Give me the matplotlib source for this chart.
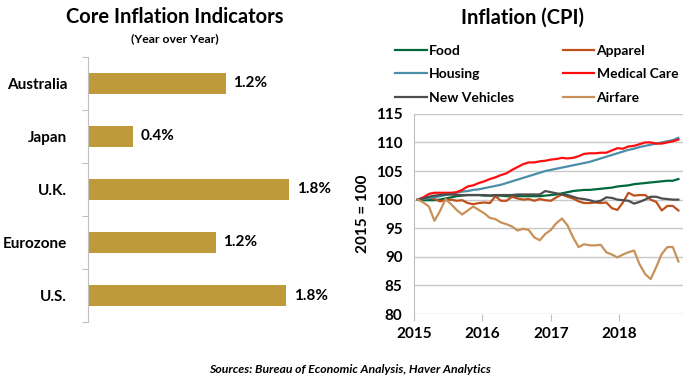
import numpy as np
import matplotlib
matplotlib.use("Agg")
import matplotlib.pyplot as plt

plt.rcParams['font.family'] = ['Lato', 'DejaVu Sans']
plt.rcParams['font.weight'] = 'bold'

# left panel: core inflation, year over year
countries = ['Australia', 'Japan', 'U.K.', 'Eurozone', 'U.S.']
core_vals = [1.23, 0.40, 1.80, 1.14, 1.77]
core_labels = ['1.2%', '0.4%', '1.8%', '1.2%', '1.8%']

# right panel: CPI components, 2015 = 100, monthly Jan 2015 - Dec 2018
food = [100.0, 99.9, 99.9, 99.9, 100.0, 100.2, 100.4, 100.6, 100.7, 100.8, 100.8, 100.8,
        100.7, 100.7, 100.7, 100.7, 100.6, 100.6, 100.6, 100.6, 100.6, 100.6, 100.6, 100.7,
        100.8, 100.9, 101.1, 101.3, 101.5, 101.6, 101.7, 101.7, 101.8, 101.9, 102.0, 102.1,
        102.3, 102.4, 102.5, 102.7, 102.8, 102.9, 103.0, 103.1, 103.2, 103.3, 103.3, 103.6]
apparel = [100.0, 100.2, 100.4, 100.1, 99.7, 99.9, 100.0, 99.8, 99.9, 99.4, 99.2, 99.4,
           99.5, 99.4, 100.6, 99.8, 99.8, 100.5, 100.2, 100.0, 100.1, 99.8, 100.1, 99.9,
           99.8, 100.4, 100.9, 100.5, 100.2, 99.7, 99.4, 99.4, 99.5, 99.4, 99.5, 98.5,
           98.2, 99.5, 101.2, 100.7, 100.8, 100.8, 100.0, 99.6, 98.1, 98.9, 98.9, 98.1]
housing = [100.0, 100.1, 100.3, 100.4, 100.6, 100.8, 101.0, 101.2, 101.4, 101.5, 101.7, 101.8,
           102.0, 102.2, 102.4, 102.6, 102.9, 103.2, 103.5, 103.8, 104.1, 104.4, 104.7, 105.0,
           105.2, 105.4, 105.6, 105.8, 106.0, 106.2, 106.4, 106.6, 106.9, 107.2, 107.5, 107.8,
           108.1, 108.4, 108.7, 108.9, 109.2, 109.4, 109.6, 109.8, 110.0, 110.2, 110.4, 110.8]
medical = [100.0, 100.4, 101.0, 101.2, 101.2, 101.2, 101.2, 101.3, 101.7, 102.3, 102.5, 102.9,
           103.2, 103.6, 103.9, 104.3, 104.6, 105.2, 105.7, 106.2, 106.5, 106.5, 106.7, 106.8,
           107.0, 107.1, 107.3, 107.2, 107.3, 107.6, 108.0, 108.1, 108.1, 108.2, 108.2, 108.6,
           109.0, 108.9, 109.3, 109.4, 109.7, 110.0, 110.0, 109.8, 109.8, 110.0, 110.2, 110.5]
vehicles = [100.0, 100.2, 100.5, 100.7, 100.8, 100.9, 100.9, 100.8, 100.8, 100.8, 100.8, 100.8,
            100.8, 100.7, 100.8, 100.8, 100.8, 100.8, 100.9, 100.9, 100.9, 100.9, 100.9, 101.5,
            101.3, 101.1, 100.9, 100.8, 100.5, 100.2, 100.1, 99.9, 99.6, 99.8, 100.4, 100.3,
            100.0, 99.9, 99.8, 99.3, 99.6, 100.0, 100.5, 100.5, 100.2, 100.1, 100.0, 100.0]
airfare = [100.0, 99.5, 98.8, 96.3, 98.0, 100.1, 99.2, 98.2, 97.4, 98.1, 98.8, 98.2,
           97.6, 96.8, 96.6, 96.0, 95.7, 95.3, 94.6, 94.9, 94.7, 93.4, 92.9, 94.0,
           94.7, 95.9, 96.7, 95.5, 93.4, 91.7, 92.2, 92.0, 92.0, 92.1, 90.8, 90.4,
           89.9, 90.4, 90.8, 91.1, 88.7, 87.0, 86.1, 88.2, 90.5, 91.7, 91.7, 89.2]

series = [('Food', food, '#00693C'), ('Apparel', apparel, '#C0501C'),
          ('Housing', housing, '#4A8EA8'), ('Medical Care', medical, '#FF0D0D'),
          ('New Vehicles', vehicles, '#4D4D4D'), ('Airfare', airfare, '#C8915A')]

fig = plt.figure(figsize=(7, 3.82), dpi=100)

# ---- bars
ax1 = fig.add_axes([0.1257, 0.157, 0.371, 0.694])
y = np.arange(len(countries))
ax1.barh(y, core_vals, height=0.4, color='#BF9A3A')
for yi, v, lab in zip(y, core_vals, core_labels):
    ax1.text(v + 0.07, yi, lab, va='center', ha='left', fontsize=11, fontweight='bold')
ax1.set_ylim(len(countries) - 0.5, -0.5)
ax1.set_xlim(0, 2.32)
ax1.set_yticks(np.arange(-0.5, len(countries), 1), minor=False)
ax1.set_yticklabels([])
ax1.set_yticks(y, minor=True)
ax1.set_yticklabels(countries, minor=True, fontsize=11, fontweight='bold')
ax1.tick_params(axis='y', which='minor', length=0, pad=15)
ax1.tick_params(axis='y', which='major', length=4, color='#BFBFBF', direction='out')
ax1.set_xticks([])
for s in ['top', 'right', 'bottom']:
    ax1.spines[s].set_visible(False)
ax1.spines['left'].set_color('#BFBFBF')
fig.text(0.25, 0.955, 'Core Inflation Indicators', ha='center', va='center',
         fontsize=14.5, fontweight='bold')
fig.text(0.25, 0.9, '(Year over Year)', ha='center', va='center',
         fontsize=8.8, fontweight='bold')

# ---- lines
ax2 = fig.add_axes([0.591, 0.178, 0.384, 0.524])
x = np.linspace(2015.06, 2018.86, len(food))
handles = {}
for name, vals, col in series:
    h, = ax2.plot(x, vals, color=col, lw=1.6, label=name)
    handles[name] = h
ax2.set_xlim(2015, 2018.92)
ax2.set_ylim(80, 115)
ax2.set_yticks(np.arange(80, 116, 5))
ax2.set_xticks([2015, 2016, 2017, 2018])
ax2.set_xticklabels(['2015', '2016', '2017', '2018'])
ax2.grid(axis='y', color='#C8C8C8', lw=1)
ax2.set_axisbelow(True)
ax2.tick_params(axis='y', length=0, labelsize=11, pad=8)
ax2.tick_params(axis='x', length=5, color='#BFBFBF', labelsize=11, pad=4)
for s in ['top', 'right', 'bottom']:
    ax2.spines[s].set_visible(False)
ax2.spines['left'].set_color('#BFBFBF')
ax2.set_ylabel('2015 = 100', fontsize=11, fontweight='bold', labelpad=4)
order = ['Food', 'Apparel', 'Housing', 'Medical Care', 'New Vehicles', 'Airfare']
# ncol fills by column, so reorder to read across rows
col_order = [order[0], order[2], order[4], order[1], order[3], order[5]]
fig.legend([handles[n] for n in col_order], col_order, ncol=2, loc='upper left',
           bbox_to_anchor=(0.556, 0.898), frameon=False,
           handlelength=2.3, handletextpad=0.15, columnspacing=3.5, labelspacing=0.85,
           borderaxespad=0, prop={'weight': 'bold', 'size': 10})
fig.text(0.747, 0.955, 'Inflation (CPI)', ha='center', va='center',
         fontsize=14.5, fontweight='bold')

fig.text(0.5, 0.034, 'Sources: Bureau of Economic Analysis, Haver Analytics',
         ha='center', va='center', fontsize=8.8, fontweight='bold', style='italic')

fig.savefig('out.png', dpi=100)
